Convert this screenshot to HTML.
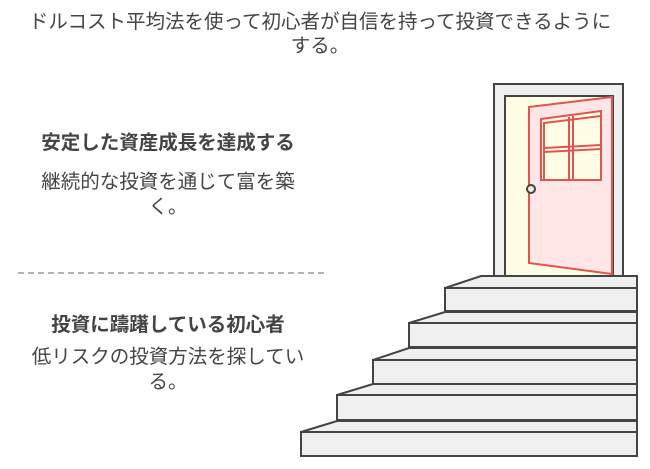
<!DOCTYPE html><html><head><meta charset="utf-8"><style>
body{margin:0;width:650px;height:469px;background:#fff;position:relative;font-family:"Liberation Sans","Noto Sans CJK JP",sans-serif;color:#444;overflow:hidden}
.t{position:absolute;text-align:center;white-space:nowrap}
</style></head><body>
<div class="t" style="left:0px;top:10px;width:640px;font-size:19.5px;line-height:24px">ドルコスト平均法を使って初心者が自信を持って投資できるように<br>する。</div>
<div class="t" style="left:8px;top:131px;width:320px;font-size:19.5px;line-height:24px;font-weight:bold">安定した資産成長を達成する</div>
<div class="t" style="left:8px;top:170px;width:320px;font-size:19.5px;line-height:25px">継続的な投資を通じて富を築<br>く。</div>
<div class="t" style="left:8px;top:313px;width:320px;font-size:19.5px;line-height:24px;font-weight:bold">投資に躊躇している初心者</div>
<div class="t" style="left:8px;top:345px;width:320px;font-size:19.5px;line-height:25px">低リスクの投資方法を探してい<br>る。</div>
<svg width="650" height="469" style="position:absolute;left:0;top:0">
<line x1="18" y1="273" x2="325" y2="273" stroke="#999" stroke-width="1.5" stroke-dasharray="6,4"/>
<g stroke="#444" stroke-width="2" fill="#f0f0f0">
<rect x="494" y="84" width="129" height="192"/>
<rect x="505" y="96" width="108" height="180" fill="#fffde6"/>
</g>
<g stroke="#e05550" stroke-width="2" fill="#ffe6e6">
<polygon points="529,107 612,97 612,274 529,263"/>
<polygon points="541,119 601,111 601,180 541,180" fill="#fffde6"/>
<polyline points="544,123 601,116" fill="none"/>
<line x1="544" y1="122" x2="544" y2="180"/>
<line x1="569" y1="117" x2="569" y2="180"/>
<line x1="573" y1="116" x2="573" y2="180"/>
<line x1="544" y1="148" x2="601" y2="145"/>
<line x1="544" y1="152" x2="601" y2="149"/>
</g>
<circle cx="531" cy="189" r="4" fill="#f0f0f0" stroke="#444" stroke-width="2"/>
<g stroke="#444" stroke-width="2" fill="#f0f0f0">
<polygon points="445,288 481,276 637,276 637,288"/><rect x="445" y="288" width="192" height="23"/>
<polygon points="409,323 445,312 637,312 637,323"/><rect x="409" y="323" width="228" height="24"/>
<polygon points="373,360 409,348 637,348 637,360"/><rect x="373" y="360" width="264" height="24"/>
<polygon points="337,395 373,384 637,384 637,395"/><rect x="337" y="395" width="300" height="25"/>
<polygon points="301,432 337,421 637,421 637,432"/><rect x="301" y="432" width="336" height="24"/>
</g>
</svg>
</body></html>
